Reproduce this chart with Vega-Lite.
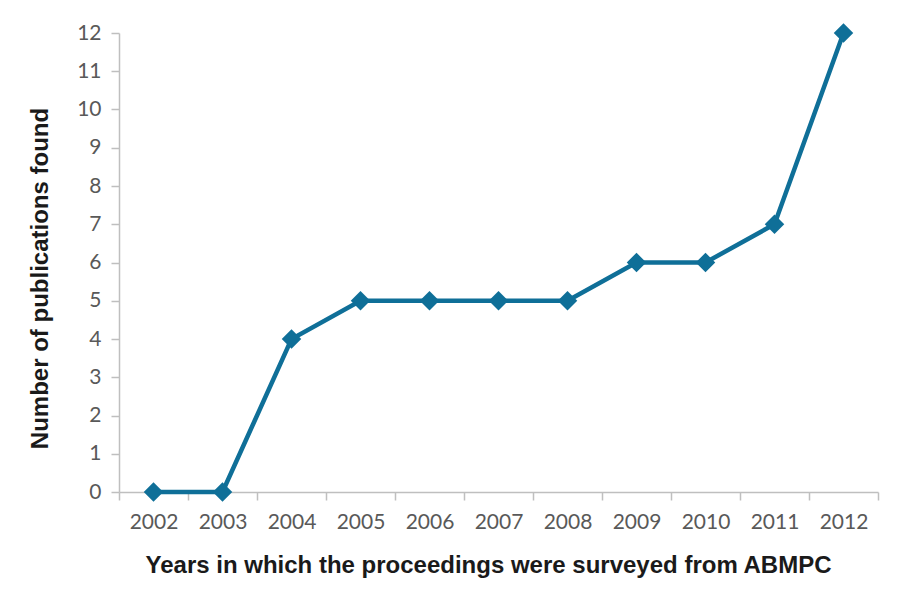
{
  "$schema": "https://vega.github.io/schema/vega-lite/v6.json",
  "autosize": {"type": "none"},
  "width": 759,
  "height": 459,
  "padding": {"left": 119, "top": 33, "right": 22, "bottom": 107},
  "background": "white",
  "config": {"view": {"stroke": null}},
  "data": {"values": [
    {"year": 2002, "count": 0},
    {"year": 2003, "count": 0},
    {"year": 2004, "count": 4},
    {"year": 2005, "count": 5},
    {"year": 2006, "count": 5},
    {"year": 2007, "count": 5},
    {"year": 2008, "count": 5},
    {"year": 2009, "count": 6},
    {"year": 2010, "count": 6},
    {"year": 2011, "count": 7},
    {"year": 2012, "count": 12}
  ]},
  "mark": {"type": "line", "color": "#0f6f98", "strokeWidth": 4.5, "point": {"shape": "diamond", "size": 380, "filled": true, "color": "#0f6f98", "opacity": 1}},
  "encoding": {
    "x": {
      "field": "year", "type": "quantitative",
      "scale": {"domain": [2001.5, 2012.5], "nice": false, "zero": false},
      "axis": {
        "values": [2001.5, 2002.5, 2003.5, 2004.5, 2005.5, 2006.5, 2007.5, 2008.5, 2009.5, 2010.5, 2011.5, 2012.5],
        "labelExpr": "datum.value > 2012 ? '' : format(datum.value + 0.5, 'd')",
        "labelOffset": 34.5,
        "grid": false,
        "domainColor": "#bfbfbf", "domainWidth": 1.5,
        "tickColor": "#bfbfbf", "tickWidth": 1.5, "tickSize": 8,
        "labelFont": "Lato", "labelFontSize": 21, "labelColor": "#595959", "labelPadding": 11,
        "labelFlush": false, "labelOverlap": false,
        "title": "Years in which the proceedings were surveyed from ABMPC",
        "titleFont": "Liberation Sans", "titleFontSize": 24, "titleFontWeight": "bold", "titleColor": "#1a1a1a",
        "titlePadding": 21, "titleX": 369, "titleAlign": "center"
      }
    },
    "y": {
      "field": "count", "type": "quantitative",
      "scale": {"domain": [0, 12], "nice": false},
      "axis": {
        "values": [0,1,2,3,4,5,6,7,8,9,10,11,12],
        "grid": false,
        "domainColor": "#bfbfbf", "domainWidth": 1.5,
        "tickColor": "#bfbfbf", "tickWidth": 1.5, "tickSize": 8,
        "labelFont": "Lato", "labelFontSize": 21, "labelColor": "#595959", "labelPadding": 10,
        "labelFlush": false, "labelOverlap": false,
        "title": "Number of publications found",
        "titleFont": "Liberation Sans", "titleFontSize": 24, "titleFontWeight": "bold", "titleColor": "#1a1a1a",
        "titlePadding": 24, "titleY": 245, "titleAlign": "center"
      }
    }
  }
}
